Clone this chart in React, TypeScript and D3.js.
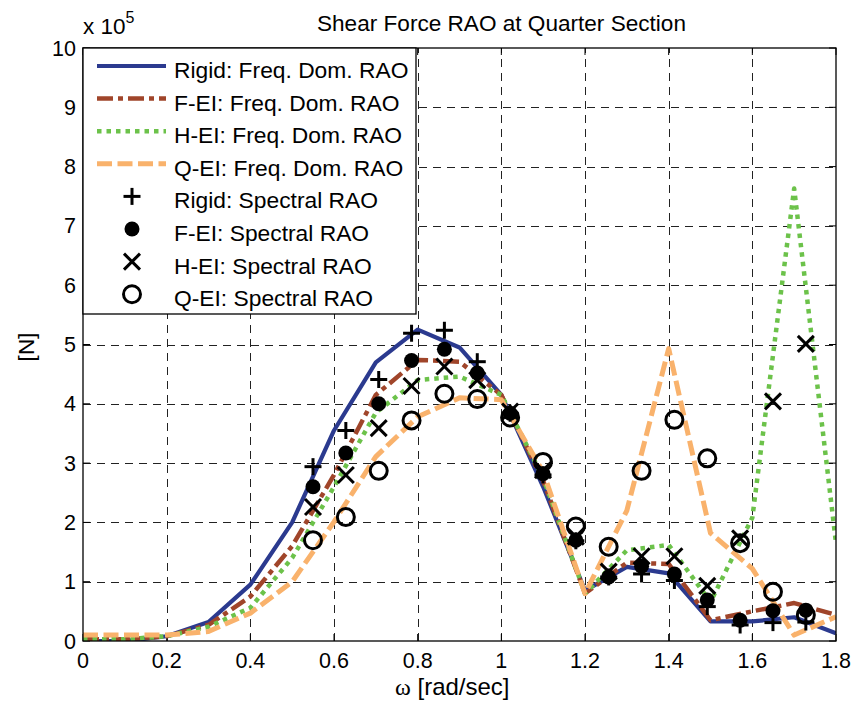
import React from "react";
import * as d3 from "d3";

const freq = [0, 0.1, 0.2, 0.3, 0.4, 0.5, 0.6, 0.7, 0.8, 0.9, 1.0, 1.1, 1.2, 1.3, 1.4, 1.5, 1.6, 1.7, 1.8];
const rigidFD = [0.0, 0.0, 0.08, 0.32, 0.95, 2.0, 3.55, 4.7, 5.25, 4.95, 4.15, 2.6, 0.85, 1.25, 1.14, 0.33, 0.33, 0.4, 0.13];
const feiFD = [0.03, 0.03, 0.08, 0.27, 0.75, 1.6, 2.8, 4.15, 4.74, 4.71, 4.15, 2.7, 0.8, 1.32, 1.3, 0.35, 0.5, 0.64, 0.44];
const heiFD = [0.03, 0.03, 0.08, 0.24, 0.56, 1.4, 2.6, 3.85, 4.4, 4.46, 4.15, 2.75, 0.8, 1.53, 1.62, 0.66, 2.08, 7.63, 1.65];
const qeiFD = [0.1, 0.1, 0.1, 0.16, 0.47, 1.0, 2.01, 3.11, 3.78, 4.1, 4.07, 2.85, 0.8, 2.2, 4.93, 1.82, 1.22, 0.1, 0.41];

const specFreq = [0.5498, 0.6283, 0.7069, 0.7854, 0.8639, 0.9425, 1.021, 1.0996, 1.1781, 1.2566, 1.3352, 1.4137, 1.4923, 1.5708, 1.6493, 1.7279];
const rigidSp = [2.94, 3.55, 4.41, 5.19, 5.24, 4.71, 3.84, 2.8, 1.69, 1.08, 1.13, 1.02, 0.58, 0.27, 0.31, 0.32];
const feiSp = [2.6, 3.17, 4.0, 4.73, 4.92, 4.52, 3.84, 2.82, 1.7, 1.08, 1.26, 1.13, 0.69, 0.35, 0.51, 0.52];
const heiSp = [2.26, 2.8, 3.59, 4.3, 4.63, 4.4, 3.87, 2.88, 1.76, 1.17, 1.43, 1.43, 0.93, 1.73, 4.04, 5.01];
const qeiSp = [1.7, 2.09, 2.87, 3.72, 4.17, 4.08, 3.77, 3.02, 1.93, 1.59, 2.87, 3.73, 3.08, 1.65, 0.83, 0.44];

const xTicks = [0, 0.2, 0.4, 0.6, 0.8, 1, 1.2, 1.4, 1.6, 1.8];
const yTicks = [0, 1, 2, 3, 4, 5, 6, 7, 8, 9, 10];

const lineLabels = [
  "Rigid: Freq. Dom. RAO",
  "F-EI: Freq. Dom. RAO",
  "H-EI: Freq. Dom. RAO",
  "Q-EI: Freq. Dom. RAO",
];
const markerLabels = [
  "Rigid: Spectral RAO",
  "F-EI: Spectral RAO",
  "H-EI: Spectral RAO",
  "Q-EI: Spectral RAO",
];

const W = 856, H = 709;
const L = 83, R = 836, T = 48, B = 641;
const FONT = "'Liberation Sans', Arial, sans-serif";

const lineStyles = [
  { color: "#2B3A8F", width: 4.2, dash: "" },
  { color: "#A0452A", width: 4.5, dash: "16,5,5,5" },
  { color: "#6CC24A", width: 4.5, dash: "4.5,5" },
  { color: "#F9B26C", width: 5, dash: "15,5.5" },
];

function Marker({ kind, x, y }: { kind: number; x: number; y: number }) {
  const s = 8.5;
  if (kind === 0)
    return (
      <g stroke="#000" strokeWidth={3}>
        <line x1={x - s} x2={x + s} y1={y} y2={y} />
        <line x1={x} x2={x} y1={y - s} y2={y + s} />
      </g>
    );
  if (kind === 1) return <circle cx={x} cy={y} r={7.5} fill="#000" />;
  if (kind === 2) {
    const t = 8;
    return (
      <g stroke="#000" strokeWidth={3}>
        <line x1={x - t} x2={x + t} y1={y - t} y2={y + t} />
        <line x1={x - t} x2={x + t} y1={y + t} y2={y - t} />
      </g>
    );
  }
  return <circle cx={x} cy={y} r={8.5} fill="none" stroke="#000" strokeWidth={3} />;
}

export default function App() {
  const x = d3.scaleLinear().domain([0, 1.8]).range([L, R]);
  const y = d3.scaleLinear().domain([0, 10]).range([B, T]);
  const lineGen = d3
    .line<number>()
    .x((_, i) => x(freq[i]))
    .y((d) => y(d));
  const fdSeries = [rigidFD, feiFD, heiFD, qeiFD];
  const spSeries = [rigidSp, feiSp, heiSp, qeiSp];

  const legX = L, legY = T, legW = 333, legH = 266;
  const rowH = 32.6;

  return (
    <svg width={W} height={H} style={{ display: "block", position: "absolute", left: 0, top: 0 }} fontFamily={FONT}>
      <rect width={W} height={H} fill="#fff" />
      <defs>
        <clipPath id="plotclip">
          <rect x={L} y={T} width={R - L} height={B - T} />
        </clipPath>
      </defs>
      {/* grid */}
      <g stroke="#222" strokeWidth={1} strokeDasharray="8,6">
        {xTicks.slice(1, -1).map((t) => (
          <line key={"gx" + t} x1={Math.round(x(t)) + 0.5} x2={Math.round(x(t)) + 0.5} y1={B} y2={T} />
        ))}
        {yTicks.slice(1, -1).map((t) => (
          <line key={"gy" + t} x1={L} x2={R} y1={Math.round(y(t)) + 0.5} y2={Math.round(y(t)) + 0.5} />
        ))}
      </g>
      {/* ticks */}
      <g stroke="#000" strokeWidth={1}>
        {xTicks.map((t) => (
          <g key={"tx" + t}>
            <line x1={x(t)} x2={x(t)} y1={B} y2={B - 7} />
            <line x1={x(t)} x2={x(t)} y1={T} y2={T + 7} />
          </g>
        ))}
        {yTicks.map((t) => (
          <g key={"ty" + t}>
            <line x1={L} x2={L + 7} y1={y(t)} y2={y(t)} />
            <line x1={R} x2={R - 7} y1={y(t)} y2={y(t)} />
          </g>
        ))}
      </g>
      {/* lines */}
      <g clipPath="url(#plotclip)" fill="none">
        {fdSeries.map((s, i) => (
          <path
            key={"l" + i}
            d={lineGen(s) || ""}
            stroke={lineStyles[i].color}
            strokeWidth={lineStyles[i].width}
            strokeDasharray={lineStyles[i].dash || undefined}
            strokeLinejoin="round"
          />
        ))}
      </g>
      {/* markers */}
      <g>
        {spSeries.map((s, i) =>
          s.map((v, j) => <Marker key={"m" + i + "-" + j} kind={i} x={x(specFreq[j])} y={y(v)} />)
        )}
      </g>
      {/* frame */}
      <rect x={L} y={T} width={R - L} height={B - T} fill="none" stroke="#000" strokeWidth={1.3} />
      {/* tick labels */}
      <g fontSize={21.5} fill="#000">
        {xTicks.map((t) => (
          <text key={"xl" + t} x={x(t)} y={668} textAnchor="middle">
            {String(t)}
          </text>
        ))}
        {yTicks.map((t) => (
          <text key={"yl" + t} x={L - 7} y={y(t) + 7.5} textAnchor="end">
            {String(t)}
          </text>
        ))}
      </g>
      <text x={L} y={34} fontSize={22.5} fill="#000">
        x 10
        <tspan dy={-11} fontSize={16}>5</tspan>
      </text>
      <text x={317} y={31} fontSize={22.6} fill="#000" textLength={369} lengthAdjust="spacingAndGlyphs">
        Shear Force RAO at Quarter Section
      </text>
      <text x={395} y={695} fontSize={24} fill="#000">
        <tspan fontFamily="'Liberation Serif', 'Times New Roman', serif">ω</tspan> [rad/sec]
      </text>
      <text transform={`translate(34, 347) rotate(-90)`} fontSize={22.5} textAnchor="middle" fill="#000">
        [N]
      </text>
      {/* legend */}
      <g>
        <rect x={legX} y={legY} width={legW} height={legH} fill="#fff" stroke="#000" strokeWidth={1.3} />
        {lineLabels.map((lab, i) => {
          const cy = legY + 18 + i * rowH;
          return (
            <g key={"lg" + i}>
              <line
                x1={legX + 14}
                x2={legX + 83}
                y1={cy}
                y2={cy}
                stroke={lineStyles[i].color}
                strokeWidth={lineStyles[i].width}
                strokeDasharray={lineStyles[i].dash || undefined}
              />
              <text x={legX + 91} y={cy + 12} fontSize={22.8} fill="#000">
                {lab}
              </text>
            </g>
          );
        })}
        {markerLabels.map((lab, i) => {
          const cy = legY + 18 + (i + 4) * rowH;
          return (
            <g key={"mg" + i}>
              <Marker kind={i} x={legX + 49} y={cy} />
              <text x={legX + 91} y={cy + 12} fontSize={22.8} fill="#000">
                {lab}
              </text>
            </g>
          );
        })}
      </g>
    </svg>
  );
}
